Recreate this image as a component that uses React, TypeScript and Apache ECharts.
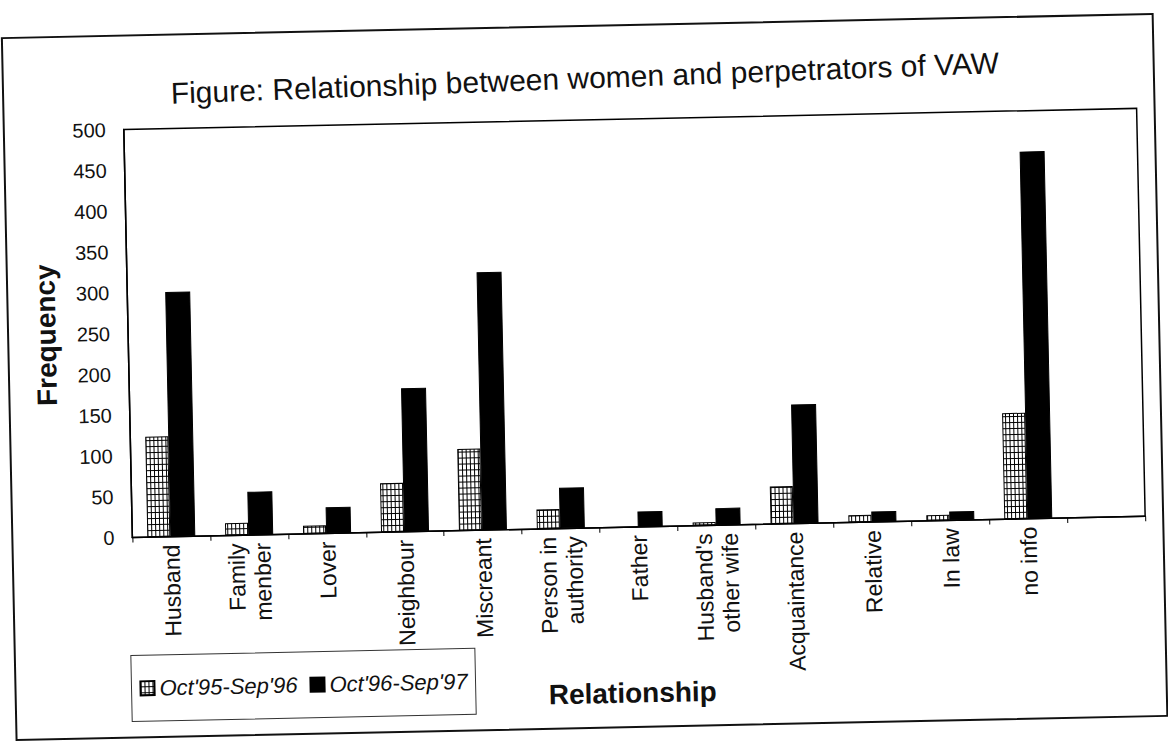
import React, { useEffect, useRef } from "react";
import * as echarts from "echarts";

const FONT = "'Liberation Sans', Arial, Helvetica, sans-serif";

const categories = [
  "Husband",
  "Family\nmenber",
  "Lover",
  "Neighbour",
  "Miscreant",
  "Person in\nauthority",
  "Father",
  "Husband's\nother wife",
  "Acquaintance",
  "Relative",
  "In law",
  "no info",
  "",
];

const seriesNames = ["Oct'95-Sep'96", "Oct'96-Sep'97"];

const values9596 = [123, 15, 10, 60, 100, 24, 0, 4, 46, 9, 7, 130];
const values9697 = [300, 53, 32, 176, 316, 50, 19, 21, 146, 13, 11, 450];

const yMin = 0;
const yMax = 500;
const yInterval = 50;

const titleText = "Figure: Relationship between women and perpetrators of VAW";
const yTitle = "Frequency";
const xTitle = "Relationship";

function makeHatch(): HTMLCanvasElement {
  const c = document.createElement("canvas");
  c.width = 4;
  c.height = 6;
  const ctx = c.getContext("2d");
  if (ctx) {
    ctx.fillStyle = "#ffffff";
    ctx.fillRect(0, 0, 4, 6);
    ctx.fillStyle = "#000000";
    ctx.fillRect(0, 0, 1, 6);
    ctx.fillRect(0, 5, 4, 1);
  }
  return c;
}

export default function App() {
  const ref = useRef<HTMLDivElement>(null);

  useEffect(() => {
    if (!ref.current) return;
    const chart = echarts.init(ref.current, undefined, { renderer: "svg" });
    const hatch = makeHatch();

    const option: any = {
      animation: false,
      backgroundColor: "#ffffff",
      textStyle: { fontFamily: FONT },
      graphic: [
        {
          type: "rect",
          shape: { x: 9, y: 26, width: 1151, height: 702 },
          style: { fill: "none", stroke: "#111", lineWidth: 2 },
          silent: true,
        },
        {
          type: "text",
          x: 591,
          y: 78,
          rotation: 0.016,
          style: {
            text: titleText,
            font: `30px ${FONT}`,
            fill: "#111",
            textAlign: "center",
            textVerticalAlign: "middle",
          },
        },
        {
          type: "text",
          x: 626,
          y: 694,
          style: {
            text: xTitle,
            font: `bold 28px ${FONT}`,
            fill: "#111",
            textAlign: "center",
            textVerticalAlign: "middle",
          },
        },
      ],
      legend: {
        data: seriesNames,
        left: 125,
        top: 646,
        orient: "horizontal",
        icon: "rect",
        itemWidth: 14,
        itemHeight: 14,
        itemGap: 12,
        padding: [22, 8],
        borderColor: "#333",
        borderWidth: 1,
        textStyle: {
          fontFamily: FONT,
          fontSize: 22,
          fontStyle: "italic",
          color: "#111",
        },
      },
      grid: {
        left: 129,
        right: 26,
        top: 120,
        bottom: 216,
        show: true,
        borderColor: "#000",
        borderWidth: 1.5,
        backgroundColor: "transparent",
      },
      xAxis: {
        type: "category",
        data: categories,
        axisLine: { show: true, lineStyle: { color: "#000", width: 1.5 } },
        axisTick: { show: true, length: 5, lineStyle: { color: "#000" } },
        axisLabel: {
          rotate: 90,
          interval: 0,
          fontSize: 23,
          lineHeight: 26,
          color: "#111",
          margin: 8,
          fontFamily: FONT,
        },
      },
      yAxis: {
        type: "value",
        min: yMin,
        max: yMax,
        interval: yInterval,
        name: yTitle,
        nameLocation: "middle",
        nameGap: 68,
        nameRotate: 90,
        nameTextStyle: {
          fontSize: 28,
          fontWeight: "bold",
          color: "#111",
          fontFamily: FONT,
        },
        splitLine: { show: false },
        axisLine: { show: true, lineStyle: { color: "#000", width: 1.5 } },
        axisTick: { show: false },
        axisLabel: { fontSize: 20, color: "#111", margin: 18, fontFamily: FONT },
      },
      series: [
        {
          name: seriesNames[0],
          type: "bar",
          data: values9596,
          barWidth: 23,
          barGap: "0%",
          itemStyle: {
            color: { image: hatch, repeat: "repeat" },
            borderColor: "#000",
            borderWidth: 1,
          },
        },
        {
          name: seriesNames[1],
          type: "bar",
          data: values9697,
          barWidth: 25,
          barGap: "0%",
          itemStyle: { color: "#000", borderColor: "#000", borderWidth: 1 },
        },
      ],
    };

    chart.setOption(option);
    return () => chart.dispose();
  }, []);

  return (
    <div
      style={{
        position: "fixed",
        left: 0,
        top: 0,
        width: 1168,
        height: 744,
        overflow: "hidden",
        background: "#fff",
      }}
    >
      <div
        ref={ref}
        style={{
          width: 1168,
          height: 744,
          transform: "rotate(-1.2deg)",
          transformOrigin: "584px 372px",
        }}
      />
    </div>
  );
}
